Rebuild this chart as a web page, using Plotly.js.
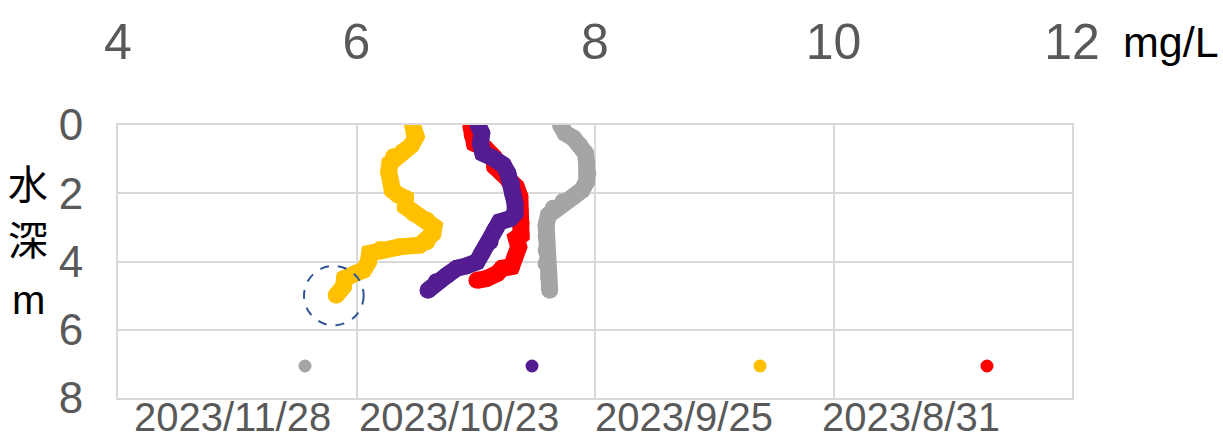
<!DOCTYPE html>
<html>
<head>
<meta charset="utf-8">
<script src="https://cdn.plot.ly/plotly-3.0.1.min.js"></script>
<style>html,body{margin:0;padding:0;background:#fff;}#chart{width:1223px;height:432px;}</style>
</head>
<body>
<div id="chart"></div>
<script>
// Dissolved oxygen profiles (mg/L) vs depth (m)
const dates = ["2023/11/28", "2023/10/23", "2023/9/25", "2023/8/31"];
const colors = ["#A5A5A5", "#531D91", "#FFC000", "#FF0000"];

const doNov28 = [7.71,7.75,7.82,7.87,7.92,7.93,7.94,7.93,7.89,7.82,7.73,7.65,7.61,7.59,7.59,7.59,7.59,7.61,7.62];
const depthNov28 = [0.00,0.24,0.39,0.59,0.83,1.12,1.42,1.66,1.91,2.10,2.25,2.44,2.64,2.93,3.27,3.67,4.06,4.45,4.84];

const doOct23 = [7.02,7.05,7.04,7.06,7.15,7.23,7.27,7.30,7.31,7.33,7.33,7.29,7.20,7.16,7.12,7.05,7.01,6.92,6.84,6.76,6.67,6.60];
const depthOct23 = [0.00,0.24,0.54,0.83,0.98,1.17,1.42,1.71,2.00,2.30,2.59,2.74,2.84,3.08,3.42,3.76,4.01,4.13,4.20,4.40,4.59,4.84];

const doSep25 = [6.47,6.48,6.50,6.46,6.39,6.31,6.28,6.27,6.29,6.30,6.35,6.41,6.41,6.48,6.59,6.65,6.64,6.59,6.53,6.36,6.20,6.11,6.10,6.06,5.99,5.90,5.89,5.83];
const depthSep25 = [0.00,0.20,0.34,0.59,0.78,0.93,1.12,1.37,1.66,1.91,2.05,2.15,2.39,2.59,2.79,2.98,3.18,3.42,3.52,3.57,3.65,3.76,4.01,4.25,4.35,4.50,4.74,4.99];

const doAug31 = [6.96,6.97,6.99,7.08,7.15,7.16,7.22,7.27,7.34,7.37,7.37,7.38,7.38,7.34,7.36,7.33,7.30,7.22,7.18,7.09,7.01];
const depthAug31 = [0.05,0.29,0.54,0.68,0.93,1.22,1.42,1.61,1.81,2.10,2.49,2.88,3.23,3.32,3.57,3.86,4.15,4.20,4.35,4.50,4.55];

const xTicks = [4, 6, 8, 10, 12];
const yTicks = [0, 2, 4, 6, 8];

function tr(x, y, c, name) {
  return {x: x, y: y, name: name, type: 'scatter', mode: 'lines+markers',
    line: {color: c, width: 17}, marker: {color: c, size: 17}, showlegend: false, hoverinfo: 'skip'};
}
const data = [
  tr(doAug31, depthAug31, colors[3], dates[3]),
  tr(doSep25, depthSep25, colors[2], dates[2]),
  tr(doOct23, depthOct23, colors[1], dates[1]),
  tr(doNov28, depthNov28, colors[0], dates[0])
];

const L = 118, R = 1072, T = 125, B = 398;
const px = v => (v - L) / (R - L);
const py = v => (B - v) / (B - T);
const FONT = 'Liberation Sans, Arial, sans-serif';
const grey = '#595959';

const legendDotX = [305, 532, 760, 987];
const legendTextX = [232, 459, 684, 911];

const annotations = [];
const shapes = [
  {type: 'circle', xref: 'x', yref: 'y', x0: 5.56, x1: 6.06, y0: 4.13, y1: 5.87,
   line: {color: '#2F5597', width: 2, dash: 'dash'}, fillcolor: 'rgba(0,0,0,0)'}
];
dates.forEach((d, i) => {
  annotations.push({xref: 'paper', yref: 'paper', x: px(legendTextX[i]), y: py(417), text: d,
    showarrow: false, xanchor: 'center', yanchor: 'middle', font: {family: FONT, size: 40, color: grey}});
  shapes.push({type: 'circle', xref: 'paper', yref: 'paper', xsizemode: 'pixel', ysizemode: 'pixel',
    xanchor: px(legendDotX[i]), yanchor: py(366), x0: -6.5, x1: 6.5, y0: -6.5, y1: 6.5,
    fillcolor: colors[i], line: {width: 0}});
});
annotations.push({xref: 'paper', yref: 'paper', x: px(1171), y: py(42), text: 'mg/L', showarrow: false,
  xanchor: 'center', yanchor: 'middle', font: {family: FONT, size: 43, color: '#000'}});
[['水', 182, 40, 'Noto Sans CJK JP, sans-serif'], ['深', 238, 40, 'Noto Sans CJK JP, sans-serif'], ['m', 300, 40, FONT]].forEach(a => {
  annotations.push({xref: 'paper', yref: 'paper', x: px(28), y: py(a[1]), text: a[0], showarrow: false,
    xanchor: 'center', yanchor: 'middle', font: {family: a[3], size: a[2], color: '#000'}});
});

const layout = {
  width: 1223, height: 432,
  margin: {l: L, r: 1223 - R, t: T, b: 432 - B, pad: 0},
  paper_bgcolor: '#fff', plot_bgcolor: '#fff',
  showlegend: false,
  xaxis: {range: [4, 12], side: 'top', tickvals: xTicks, ticktext: xTicks.map(String),
    showgrid: true, gridcolor: '#D9D9D9', gridwidth: 2, zeroline: false,
    showline: true, mirror: true, linecolor: '#D9D9D9', linewidth: 2,
    ticks: 'outside', ticklen: 44, tickcolor: 'rgba(0,0,0,0)', tickfont: {family: FONT, size: 50, color: grey}},
  yaxis: {range: [8, 0], tickvals: yTicks, ticktext: yTicks.map(String),
    showgrid: true, gridcolor: '#D9D9D9', gridwidth: 2, zeroline: false,
    showline: true, mirror: true, linecolor: '#D9D9D9', linewidth: 2,
    ticks: 'outside', ticklen: 24, tickcolor: 'rgba(0,0,0,0)', tickfont: {family: FONT, size: 44, color: grey}},
  annotations: annotations,
  shapes: shapes
};

Plotly.newPlot('chart', data, layout, {displayModeBar: false, staticPlot: true});
</script>
</body>
</html>
